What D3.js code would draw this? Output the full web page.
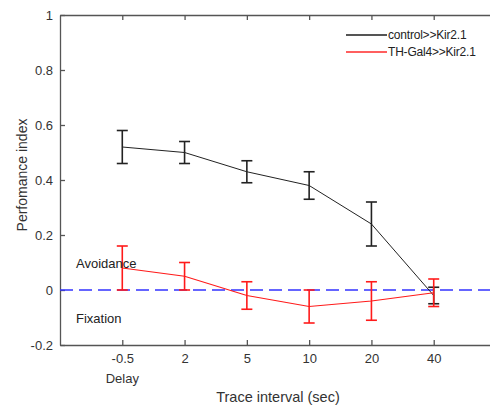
<!DOCTYPE html>
<html><head><meta charset="utf-8">
<script src="https://cdn.jsdelivr.net/npm/d3@7"></script>
<style>body{margin:0;background:#fff}svg{display:block}text{font-family:"Liberation Sans",Arial,sans-serif}</style>
</head><body><svg id="c" width="490" height="407"></svg>
<script>
const categories = ["-0.5","2","5","10","20","40"];
const controlMean = [0.52, 0.50, 0.43, 0.38, 0.24, -0.02];
const controlErr  = [0.06, 0.04, 0.04, 0.05, 0.08, 0.03];
const thMean = [0.08, 0.05, -0.02, -0.06, -0.04, -0.01];
const thErr  = [0.08, 0.05, 0.05, 0.06, 0.07, 0.05];
const yTicks = [-0.2, 0, 0.2, 0.4, 0.6, 0.8, 1];
const seriesNames = ["control>>Kir2.1", "TH-Gal4>>Kir2.1"];

const svg = d3.select("#c");
const L = 60, R = 496, T = 15, B = 345;
const x = d3.scaleLinear().domain([0, 7]).range([L, R]);
const y = d3.scaleLinear().domain([-0.2, 1]).range([B, T]);
const xi = i => x(i + 1);
const axisCol = "#555", txtCol = "#333";

// axes (MATLAB style, inward ticks)
const yAx = svg.append("g").attr("transform", `translate(${L},0)`)
  .call(d3.axisLeft(y).tickValues(yTicks).tickSizeInner(-5).tickSizeOuter(0).tickPadding(7)
    .tickFormat(d => d === 0 ? "0" : String(+d.toFixed(1))));
const xAx = svg.append("g").attr("transform", `translate(0,${B})`)
  .call(d3.axisBottom(x).tickValues(d3.range(1, 7)).tickSizeInner(-5).tickSizeOuter(0).tickPadding(9)
    .tickFormat(d => categories[d - 1]));
const xTop = svg.append("g").attr("transform", `translate(0,${T})`)
  .call(d3.axisTop(x).tickValues(d3.range(1, 7)).tickSizeInner(-5).tickSizeOuter(0).tickFormat(""));
[yAx, xAx, xTop].forEach(g => {
  g.selectAll(".domain,line").attr("stroke", axisCol).attr("stroke-width", 1.3);
  g.selectAll("text").attr("fill", txtCol).attr("font-size", 13);
});

// zero reference line
svg.append("line").attr("x1", L).attr("x2", 490).attr("y1", y(0)).attr("y2", y(0))
  .attr("stroke", "#3333ff").attr("stroke-width", 1.3).attr("stroke-dasharray", "13,6");

function drawSeries(mean, err, col, lw, ew) {
  const g = svg.append("g");
  g.append("path").datum(mean)
    .attr("d", d3.line().x((d, i) => xi(i)).y(d => y(d)))
    .attr("fill", "none").attr("stroke", col).attr("stroke-width", lw);
  mean.forEach((m, i) => {
    const cx = xi(i), t = y(m + err[i]), b = y(m - err[i]);
    g.append("line").attr("x1", cx).attr("x2", cx).attr("y1", t).attr("y2", b)
      .attr("stroke", col).attr("stroke-width", ew);
    [t, b].forEach(yy => g.append("line").attr("x1", cx - 5.5).attr("x2", cx + 5.5)
      .attr("y1", yy).attr("y2", yy).attr("stroke", col).attr("stroke-width", ew));
  });
}
drawSeries(controlMean, controlErr, "#222", 1, 1.6);
drawSeries(thMean, thErr, "#ff1a1a", 1.1, 1.6);

// legend
const leg = [[seriesNames[0], "#555", 2.2, 35], [seriesNames[1], "#ff2a2a", 1.3, 52]];
leg.forEach(([name, col, w, yy]) => {
  svg.append("line").attr("x1", 346).attr("x2", 387).attr("y1", yy).attr("y2", yy)
    .attr("stroke", col).attr("stroke-width", w);
  svg.append("text").attr("x", 388).attr("y", yy).attr("dy", "0.35em")
    .attr("font-size", 12).attr("letter-spacing", -0.2).attr("fill", "#222").text(name);
});

// annotations
svg.append("text").attr("x", 76).attr("y", 263.5).attr("dy", "0.35em").attr("font-size", 13)
  .attr("fill", "#222").text("Avoidance");
svg.append("text").attr("x", 76).attr("y", 318.5).attr("dy", "0.35em").attr("font-size", 13)
  .attr("fill", "#222").text("Fixation");
svg.append("text").attr("x", xi(0)).attr("y", 378).attr("dy", "0.35em").attr("text-anchor", "middle")
  .attr("font-size", 13).attr("fill", txtCol).text("Delay");
svg.append("text").attr("x", 278).attr("y", 396.5).attr("dy", "0.35em").attr("text-anchor", "middle")
  .attr("font-size", 14.5).attr("fill", txtCol).text("Trace interval (sec)");
svg.append("text").attr("transform", `translate(22,175) rotate(-90)`)
  .attr("dy", "0.35em").attr("text-anchor", "middle").attr("font-size", 14).attr("fill", txtCol)
  .text("Perfomance index");
</script></body></html>
